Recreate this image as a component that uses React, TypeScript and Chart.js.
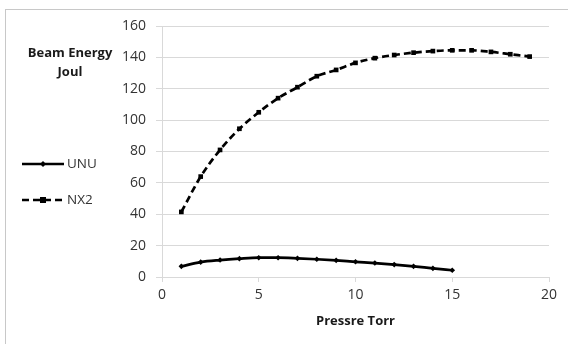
import React, { useEffect, useRef } from "react";
import { Chart, registerables } from "chart.js";

Chart.register(...registerables);

const pressure: number[] = [1, 2, 3, 4, 5, 6, 7, 8, 9, 10, 11, 12, 13, 14, 15, 16, 17, 18, 19];
const unuValues: number[] = [6.8, 9.5, 10.8, 11.7, 12.3, 12.3, 11.9, 11.3, 10.6, 9.7, 8.9, 7.9, 6.8, 5.5, 4.3];
const nx2Values: number[] = [41.5, 64, 81, 94.5, 105, 114, 121, 128, 132, 136.5, 139.5, 141.5, 143, 144, 144.5, 144.5, 143.5, 142, 140.5];
const seriesNames: string[] = ["UNU", "NX2"];
const yTitleLines: string[] = ["Beam Energy", "Joul"];
const xTitle = "Pressre Torr";

const FONT = "'Open Sans', 'Liberation Sans', sans-serif";
const TEXT = "#333333";
const GRID = "#d9d9d9";

const overlayPlugin = {
  id: "overlay",
  afterDraw(chart: any) {
    const ctx = chart.ctx as CanvasRenderingContext2D;
    ctx.save();
    ctx.fillStyle = "#1a1a1a";
    ctx.font = `bold 13px ${FONT}`;
    ctx.textAlign = "center";
    ctx.textBaseline = "middle";
    ctx.fillText(yTitleLines[0], 70, 53);
    ctx.fillText(yTitleLines[1], 70, 72);
    const area = chart.chartArea;
    ctx.fillText(xTitle, (area.left + area.right) / 2, 321);
    const items = [
      { name: seriesNames[0], y: 164, dash: [] as number[], style: "diamond" },
      { name: seriesNames[1], y: 200, dash: [7, 4], style: "square" },
    ];
    items.forEach((it) => {
      ctx.strokeStyle = "#000";
      ctx.lineWidth = 2.7;
      ctx.setLineDash(it.dash);
      ctx.beginPath();
      ctx.moveTo(22, it.y);
      ctx.lineTo(64, it.y);
      ctx.stroke();
      ctx.setLineDash([]);
      ctx.fillStyle = "#000";
      if (it.style === "square") {
        ctx.fillRect(40, it.y - 3, 6, 6);
      } else {
        ctx.beginPath();
        ctx.moveTo(43, it.y - 3);
        ctx.lineTo(46, it.y);
        ctx.lineTo(43, it.y + 3);
        ctx.lineTo(40, it.y);
        ctx.closePath();
        ctx.fill();
      }
      ctx.fillStyle = TEXT;
      ctx.font = `13.5px ${FONT}`;
      ctx.textAlign = "left";
      ctx.fillText(it.name, 67, it.y);
    });
    ctx.restore();
  },
};

export default function App() {
  const ref = useRef<HTMLCanvasElement | null>(null);
  useEffect(() => {
    if (!ref.current) return;
    const chart = new Chart(ref.current, {
      type: "line",
      data: {
        datasets: [
          {
            label: seriesNames[0],
            data: unuValues.map((v, i) => ({ x: pressure[i], y: v })),
            borderColor: "#000",
            backgroundColor: "#000",
            borderWidth: 2.7,
            tension: 0.4,
            cubicInterpolationMode: "monotone",
            pointStyle: "rectRot",
            pointRadius: 2.8,
            pointBorderWidth: 0,
          },
          {
            label: seriesNames[1],
            data: nx2Values.map((v, i) => ({ x: pressure[i], y: v })),
            borderColor: "#000",
            backgroundColor: "#000",
            borderWidth: 2.7,
            borderDash: [7, 4],
            tension: 0.4,
            cubicInterpolationMode: "monotone",
            pointStyle: "rect",
            pointRadius: 3.3,
            pointBorderWidth: 0,
          },
        ],
      },
      options: {
        responsive: false,
        animation: false,
        layout: { padding: { left: 112, top: 26, right: 19, bottom: 0 } },
        plugins: { legend: { display: false }, tooltip: { enabled: false } },
        scales: {
          x: {
            type: "linear",
            min: 0,
            max: 20,
            ticks: { stepSize: 5, color: TEXT, font: { family: FONT, size: 14 }, padding: 5 },
            grid: { drawOnChartArea: false, drawTicks: true, tickLength: 5, color: GRID },
            border: { color: GRID },
            afterFit: (s: any) => {
              s.height = 67;
            },
          },
          y: {
            min: 0,
            max: 160,
            ticks: { stepSize: 20, color: TEXT, font: { family: FONT, size: 14 }, padding: 10 },
            grid: { color: GRID, tickLength: 6 },
            border: { color: GRID },
            afterFit: (s: any) => {
              s.width = 50;
            },
          },
        },
      },
      plugins: [overlayPlugin],
    } as any);
    return () => chart.destroy();
  }, []);
  return (
    <div style={{ position: "fixed", left: 0, top: 0, width: 568, height: 344, overflow: "hidden", background: "#fff" }}>
      <div
        style={{
          position: "absolute",
          left: 5,
          top: 9,
          width: 700,
          height: 500,
          border: "1.5px solid #c8c8c8",
        }}
      />
      <canvas ref={ref} width={568} height={344} style={{ position: "absolute", left: 0, top: 0 }} />
    </div>
  );
}
